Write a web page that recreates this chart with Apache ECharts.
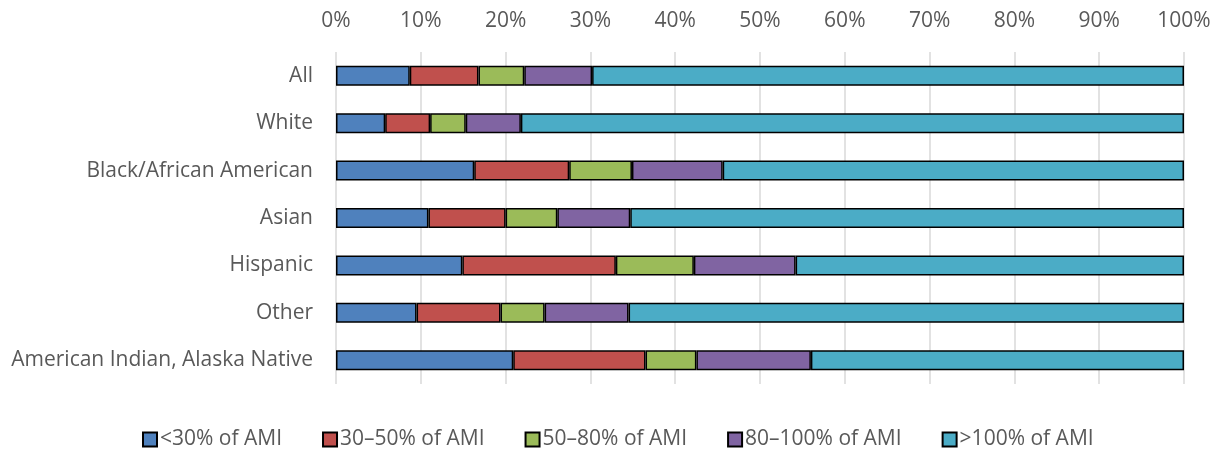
<!DOCTYPE html>
<html>
<head>
<meta charset="utf-8">
<script src="https://cdn.jsdelivr.net/npm/echarts@6/dist/echarts.min.js"></script>
<style>
  html, body { margin: 0; padding: 0; background: #fff; }
  #chart { width: 1217px; height: 449px; }
</style>
</head>
<body>
<div id="chart"></div>
<script>
// Household groups, top to bottom
const categories = ['All', 'White', 'Black/African American', 'Asian', 'Hispanic', 'Other', 'American Indian, Alaska Native'];

// Share of households in each income band (percent of AMI)
const below30 = [8.7, 5.8, 16.3, 10.9, 14.9, 9.5, 20.9];
const from30to50 = [8.1, 5.3, 11.2, 9.1, 18.1, 9.9, 15.6];
const from50to80 = [5.4, 4.2, 7.4, 6.1, 9.2, 5.2, 6.0];
const from80to100 = [8.0, 6.5, 10.7, 8.6, 12.0, 9.9, 13.5];
const above100 = [69.8, 78.2, 54.4, 65.3, 45.8, 65.5, 44.0];

const seriesNames = ['<30% of AMI', '30\u201350% of AMI', '50\u201380% of AMI', '80\u2013100% of AMI', '>100% of AMI'];
const seriesData = [below30, from30to50, from50to80, from80to100, above100];
const colors = ['#4F81BD', '#C0504D', '#9BBB59', '#8064A2', '#4BACC6'];

const FONT = '"Open Sans", "Noto Sans", sans-serif';
const TEXT = '#595959';

const chart = echarts.init(document.getElementById('chart'), null, { renderer: 'canvas' });

chart.setOption({
  animation: false,
  textStyle: { fontFamily: FONT },
  grid: { left: 336, right: 33, top: 52, bottom: 65 },
  xAxis: {
    type: 'value',
    position: 'top',
    min: 0,
    max: 100,
    interval: 10,
    axisLine: { show: false },
    axisTick: { show: false },
    axisLabel: { formatter: '{value}%', color: TEXT, fontSize: 21, fontFamily: FONT, margin: 20 },
    splitLine: { lineStyle: { color: '#d9d9d9', width: 1.5 } }
  },
  yAxis: {
    type: 'category',
    inverse: true,
    data: categories,
    axisLine: { show: false },
    axisTick: { show: false },
    axisLabel: { color: TEXT, fontSize: 21, fontFamily: FONT, margin: 23 }
  },
  legend: {
    top: 429,
    left: 142,
    padding: 0,
    itemWidth: 14,
    itemHeight: 14,
    itemGap: 40,
    icon: 'rect',
    textStyle: { color: TEXT, fontSize: 21, fontFamily: FONT, padding: [0, 0, 0, -2] },
    data: seriesNames
  },
  series: seriesNames.map((name, i) => ({
    name: name,
    type: 'bar',
    stack: 'total',
    barWidth: 20,
    data: seriesData[i],
    itemStyle: { color: colors[i], borderColor: '#000', borderWidth: 1.5 }
  }))
});
</script>
</body>
</html>
